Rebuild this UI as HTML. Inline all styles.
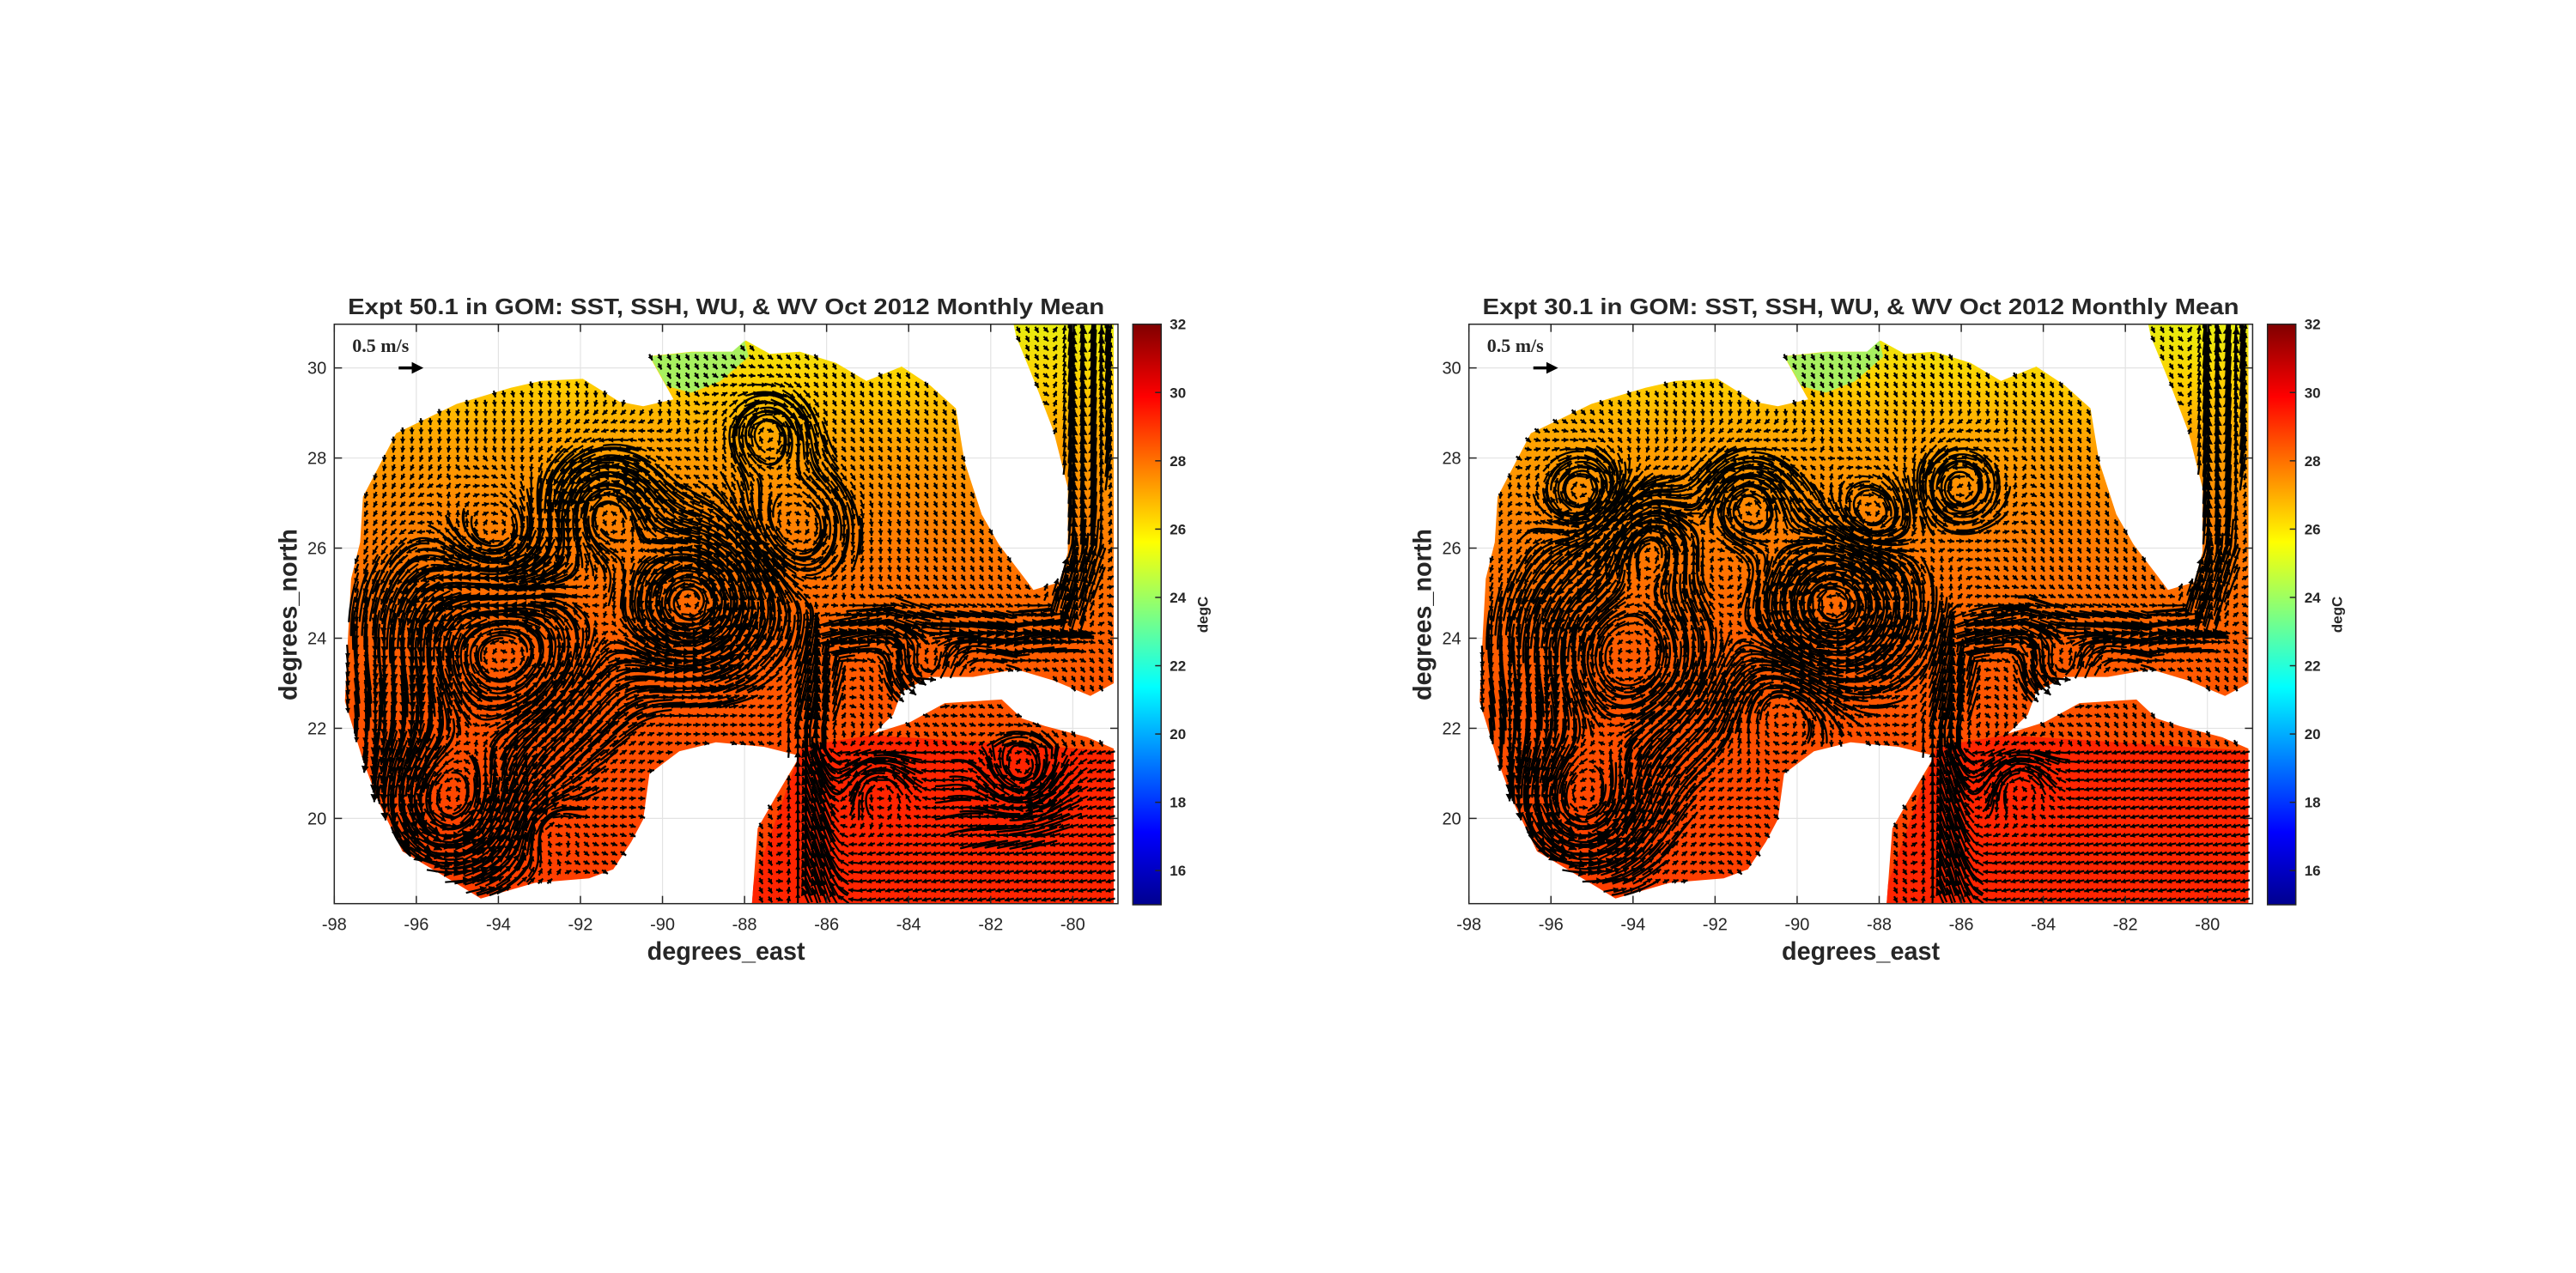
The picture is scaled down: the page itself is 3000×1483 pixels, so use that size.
<!DOCTYPE html>
<html><head><meta charset="utf-8"><style>
html,body{margin:0;padding:0;background:#fff}
svg{display:block}
text{font-family:"Liberation Sans",Arial,sans-serif;fill:#262626}
</style></head><body>
<svg id="fig" width="3000" height="1483" viewBox="0 0 3000 1483" xmlns="http://www.w3.org/2000/svg">
<defs>
<linearGradient id="sst" gradientUnits="userSpaceOnUse" x1="0" y1="377" x2="0" y2="1053">
<stop offset="0" stop-color="#e8ee10"/><stop offset="0.1" stop-color="#ffd000"/>
<stop offset="0.2" stop-color="#ffa400"/><stop offset="0.33" stop-color="#ff8400"/>
<stop offset="0.55" stop-color="#ff5e00"/><stop offset="0.8" stop-color="#ff4800"/>
<stop offset="1" stop-color="#ff3c00"/></linearGradient>
<linearGradient id="jet" x1="0" y1="1" x2="0" y2="0">
<stop offset="0" stop-color="#00008f"/><stop offset="0.125" stop-color="#0000ff"/>
<stop offset="0.375" stop-color="#00ffff"/><stop offset="0.625" stop-color="#ffff00"/>
<stop offset="0.875" stop-color="#ff0000"/><stop offset="1" stop-color="#800000"/></linearGradient>
</defs>
</svg>
<script>
// coastline of ocean region (lon, lat)
const coastLon=[-97.30,-96.49,-95.02,-93.70,-92.96,-91.94,-91.05,-90.47,-89.73,-90.32,-89.29,-88.26,-87.97,-87.38,-86.65,-85.77,-85.03,-84.17,-83.47,-82.85,-82.64,-82.22,-81.80,-81.17,-80.96,-80.33,-80.12,-80.12,-80.47,-80.89,-81.38,-81.45,-79,-79,-79.57,-80.47,-81.38,-82.43,-83.47,-84.17,-84.38,-84.87,-83.96,-83.12,-81.73,-81.24,-80.68,-79.64,-79,-79,-87.82,-87.68,-87.24,-86.65,-87.53,-88.70,-89.59,-90.32,-90.47,-90.76,-91.20,-91.79,-93.11,-94.43,-94.87,-96.34,-96.93,-97.30,-97.74,-97.66,-97.59,-97.37];
const coastLat=[27.14,28.55,29.20,29.56,29.71,29.76,29.25,29.15,29.30,30.26,30.36,30.36,30.61,30.31,30.36,30.11,29.71,30.03,29.61,29.10,27.93,26.75,26.08,25.33,25.07,25.24,25.90,27.34,28.60,29.60,30.70,31,31,23.0,22.72,23.06,23.31,23.14,23.14,22.81,22.30,21.88,22.14,22.56,22.64,22.22,22.05,21.80,21.55,18.1,18.1,19.78,20.48,21.39,21.59,21.69,21.49,20.99,19.98,19.48,18.87,18.67,18.57,18.22,18.47,19.27,20.38,21.29,22.60,24.11,25.32,26.13];
const caribLon=[-86.6,-84.9,-79,-79,-88];
const caribLat=[21.6,21.85,21.5,18.0,18.0];
const deltaLon=[-90.3,-89.3,-88.3,-88.0,-87.9,-88.6,-89.3,-89.9];
const deltaLat=[30.25,30.35,30.36,30.6,30.25,29.7,29.45,29.6];
const xTicks=[-98,-96,-94,-92,-90,-88,-86,-84,-82,-80];
const yTicks=[20,22,24,26,28,30];
const cTicks=[16,18,20,22,24,26,28,30,32];
// eddies: experiment 50.1
const e1Lon=[-91.35,-94.0,-89.3,-94.0,-95.3,-87.4,-83.57,-81.2,-84.74,-92.9,-86.8];
const e1Lat=[26.83,25.9,24.8,23.8,20.2,28.55,23.4,21.0,20.7,19.8,26.5];
const e1R=[0.8,0.9,1.1,1.7,1.2,0.6,0.5,0.55,0.5,0.5,0.9];
const e1V=[0.7,-0.6,0.9,0.7,0.8,-0.5,0.6,-0.5,0.4,-0.3,-0.35];
// eddies: experiment 30.1
const e2Lon=[-95.17,-93.55,-91.2,-89.14,-88.26,-86.06,-95.31,-94.2,-83.57,-84.6,-90.3];
const e2Lat=[27.19,26.13,26.93,24.71,26.62,27.34,20.27,23.6,23.4,20.8,22.6];
const e2R=[0.6,0.7,0.7,1.1,0.6,0.6,1.1,1.6,0.5,0.5,0.8];
const e2V=[-0.6,0.7,0.7,0.9,-0.5,0.5,0.7,0.6,0.6,0.4,-0.3];
// loop current path
const loopLon=[-86.2,-86.4,-86.1,-84.5,-81.5,-80.2,-79.8,-79.6];
const loopLat=[18.2,22.0,23.9,24.3,24.0,24.3,26.0,31.0];
const loopSpeed=[1.0,1.0,1.0,1.0,0.9,1.0,1.0];

const NS='http://www.w3.org/2000/svg';
const svg=document.getElementById('fig');
function mk(tag,attrs,parent){const e=document.createElementNS(NS,tag);for(const k in attrs)e.setAttribute(k,attrs[k]);(parent||svg).appendChild(e);return e;}
function inPoly(x,y){let c=false;for(let i=0,j=coastLon.length-1;i<coastLon.length;j=i++){const xi=coastLon[i],yi=coastLat[i],xj=coastLon[j],yj=coastLat[j];if(((yi>y)!=(yj>y))&&(x<(xj-xi)*(y-yi)/(yj-yi)+xi))c=!c;}return c;}
function vel(lon,lat,EL,ET,ER,EV){
  let u=0.03,v=-0.06;
  for(let i=0;i<EL.length;i++){const dx=(lon-EL[i])*0.92,dy=lat-ET[i];const d=Math.hypot(dx,dy)+1e-6;const q=d/ER[i];const s=EV[i]*q*Math.exp(0.5*(1-q*q))/d;u+=-dy*s;v+=dx*s;}
  let best=1e9,bu=0,bv=0;
  for(let i=0;i<loopLon.length-1;i++){const ax=loopLon[i],ay=loopLat[i],bx=loopLon[i+1],by=loopLat[i+1];const sx=bx-ax,sy=by-ay;const L2=sx*sx+sy*sy;let t=((lon-ax)*sx+(lat-ay)*sy)/L2;t=Math.max(0,Math.min(1,t));const d=Math.hypot(lon-ax-t*sx,lat-ay-t*sy);if(d<best){best=d;const L=Math.sqrt(L2);bu=sx/L*loopSpeed[i];bv=sy/L*loopSpeed[i];}}
  const w=Math.exp(-(best/0.55)*(best/0.55));u+=bu*w;v+=bv*w;
  if(lat<21.6&&lon>-86.5){u+=-0.3;}
  return [u,v];
}
function plot(off,title,EL,ET,ER,EV,tag){
  const L=389.3+off,R=1302+off,T=377.7,B=1052.7;
  const X=lon=>L+(lon+98)*47.78, Y=lat=>T+(30.97-lat)*52.48;
  const g=mk('g',{});
  const cid='clip'+tag;const cp=mk('clipPath',{id:cid},g);mk('rect',{x:L,y:T,width:R-L,height:B-T},cp);
  const grid=mk('g',{stroke:'#e3e3e3','stroke-width':1.2},g);
  xTicks.forEach(t=>mk('line',{x1:X(t),x2:X(t),y1:T,y2:B},grid));
  yTicks.forEach(t=>mk('line',{x1:L,x2:R,y1:Y(t),y2:Y(t)},grid));
  const mg=mk('g',{'clip-path':'url(#'+cid+')'},g);
  const pts=coastLon.map((o,i)=>X(o).toFixed(1)+','+Y(coastLat[i]).toFixed(1)).join(' ');
  const ocean=mk('polygon',{points:pts,fill:'url(#sst)'},mg);
  
  const cc=mk('clipPath',{id:'oc'+tag},g);mk('polygon',{points:pts},cc);
  const car=mk('polygon',{points:caribLon.map((o,i)=>X(o)+','+Y(caribLat[i])).join(' '),fill:'#ff2400','clip-path':'url(#oc'+tag+')'},mg);
  
  const del=mk('polygon',{points:deltaLon.map((o,i)=>X(o)+','+Y(deltaLat[i])).join(' '),fill:'#a8f060'},mg);
  
  // streamlines
  let sl='';
  for(let lon=-97.8;lon<-79;lon+=0.3){for(let lat=18.3;lat<31;lat+=0.3){
    if(!inPoly(lon,lat))continue;
    const [u0,v0]=vel(lon,lat,EL,ET,ER,EV);if(Math.hypot(u0,v0)<0.3)continue;
    let x=lon,y=lat,seg='M'+X(x).toFixed(1)+' '+Y(y).toFixed(1);
    for(let k=0;k<14;k++){const [u,v]=vel(x,y,EL,ET,ER,EV);const s=Math.hypot(u,v);if(s<0.2)break;x+=u/s*0.06;y+=v/s*0.06;if(!inPoly(x,y))break;seg+='L'+X(x).toFixed(1)+' '+Y(y).toFixed(1);}
    sl+=seg;
  }}
  const st=mk('path',{d:sl,stroke:'#000','stroke-width':2.4,fill:'none','stroke-linecap':'round'},mg);
  
  // arrows
  let lines='',heads='';
  for(let lon=-97.9;lon<-79;lon+=0.224){for(let lat=18.2;lat<31;lat+=0.204){
    if(!inPoly(lon,lat))continue;
    const [u,v]=vel(lon,lat,EL,ET,ER,EV);
    let ax=u*40,ay=-v*40;let len=Math.hypot(ax,ay);
    const ux=len>0?ax/len:1,uy=len>0?ay/len:0;
    if(len<8){len=8;}if(len>30)len=30;ax=ux*len;ay=uy*len;
    const x0=X(lon)-ax/2,y0=Y(lat)-ay/2;
    const h=Math.max(5.5,0.3*len);const tx=x0+ax,ty=y0+ay;
    lines+='M'+x0.toFixed(1)+' '+y0.toFixed(1)+'L'+tx.toFixed(1)+' '+ty.toFixed(1);
    const bx=tx-ux*h,by=ty-uy*h,px=-uy*h*0.55,py=ux*h*0.55;
    heads+='M'+tx.toFixed(1)+' '+ty.toFixed(1)+'L'+(bx+px).toFixed(1)+' '+(by+py).toFixed(1)+'L'+(bx-px).toFixed(1)+' '+(by-py).toFixed(1)+'Z';
  }}
  const ar=mk('path',{d:lines,stroke:'#000','stroke-width':2.2,fill:'none'},mg);
  
  const ah=mk('path',{d:heads,fill:'#000'},mg);
  
  // box and ticks
  const bx=mk('rect',{x:L,y:T,width:R-L,height:B-T,fill:'none',stroke:'#262626','stroke-width':1.5},g);
  
  const tk=mk('g',{stroke:'#262626','stroke-width':1.5},g);
  xTicks.forEach(t=>{mk('line',{x1:X(t),x2:X(t),y1:B,y2:B-9},tk);mk('line',{x1:X(t),x2:X(t),y1:T,y2:T+9},tk);
    const tx=mk('text',{x:X(t),y:B+31,'text-anchor':'middle','font-size':20},g);tx.textContent=t;});
  yTicks.forEach(t=>{mk('line',{x1:L,x2:L+9,y1:Y(t),y2:Y(t)},tk);mk('line',{x1:R,x2:R-9,y1:Y(t),y2:Y(t)},tk);
    const ty=mk('text',{x:L-9,y:Y(t)+7,'text-anchor':'end','font-size':20},g);ty.textContent=t;});
  const tt=mk('text',{x:(L+R)/2,y:366,'text-anchor':'middle','font-size':26,'font-weight':'bold',fill:'#000',textLength:881,lengthAdjust:'spacingAndGlyphs'},g);
  tt.textContent=title;
  const xl=mk('text',{x:(L+R)/2,y:1118,'text-anchor':'middle','font-size':30,'font-weight':'bold',textLength:184,lengthAdjust:'spacingAndGlyphs'},g);
  xl.textContent='degrees_east';
  const yl=mk('text',{x:0,y:0,'text-anchor':'middle','font-size':30,'font-weight':'bold',transform:'translate('+(L-44)+',716) rotate(-90)',textLength:200,lengthAdjust:'spacingAndGlyphs'},g);
  yl.textContent='degrees_north';
  const rt=mk('text',{x:L+21,y:410,'font-size':22,'font-weight':'bold',fill:'#000',style:'font-family:"Liberation Serif",serif'},g);
  rt.textContent='0.5 m/s';
  const ra=mk('path',{d:'M'+(L+75)+' '+Y(30)+'h22 M'+(L+92)+' '+(Y(30)-4)+'l8 4 -8 4z',stroke:'#000','stroke-width':3.5,fill:'#000'},g);
  
  const cL=1319.3+off,cR=1352.3+off,cT=377.7,cB=1054;const C=val=>cB-(val-15)*(cB-cT)/17;
  const cb=mk('rect',{x:cL,y:cT,width:cR-cL,height:cB-cT,fill:'url(#jet)',stroke:'#262626','stroke-width':1.5},g);
  
  cTicks.forEach(t=>{mk('line',{x1:cR,x2:cR-7,y1:C(t),y2:C(t),stroke:'#262626','stroke-width':1.5},g);
    const ct=mk('text',{x:cR+10,y:C(t)+6,'font-size':17,'font-weight':'bold'},g);ct.textContent=t;});
  const cl=mk('text',{x:0,y:0,'text-anchor':'middle','font-size':17,'font-weight':'bold',transform:'translate('+(cR+54)+',716) rotate(-90)'},g);
  cl.textContent='degC';
}
plot(0,'Expt 50.1 in GOM: SST, SSH, WU, & WV Oct 2012 Monthly Mean',e1Lon,e1Lat,e1R,e1V,'expt50');
plot(1321.4,'Expt 30.1 in GOM: SST, SSH, WU, & WV Oct 2012 Monthly Mean',e2Lon,e2Lat,e2R,e2V,'expt30');
</script>
</body></html>
